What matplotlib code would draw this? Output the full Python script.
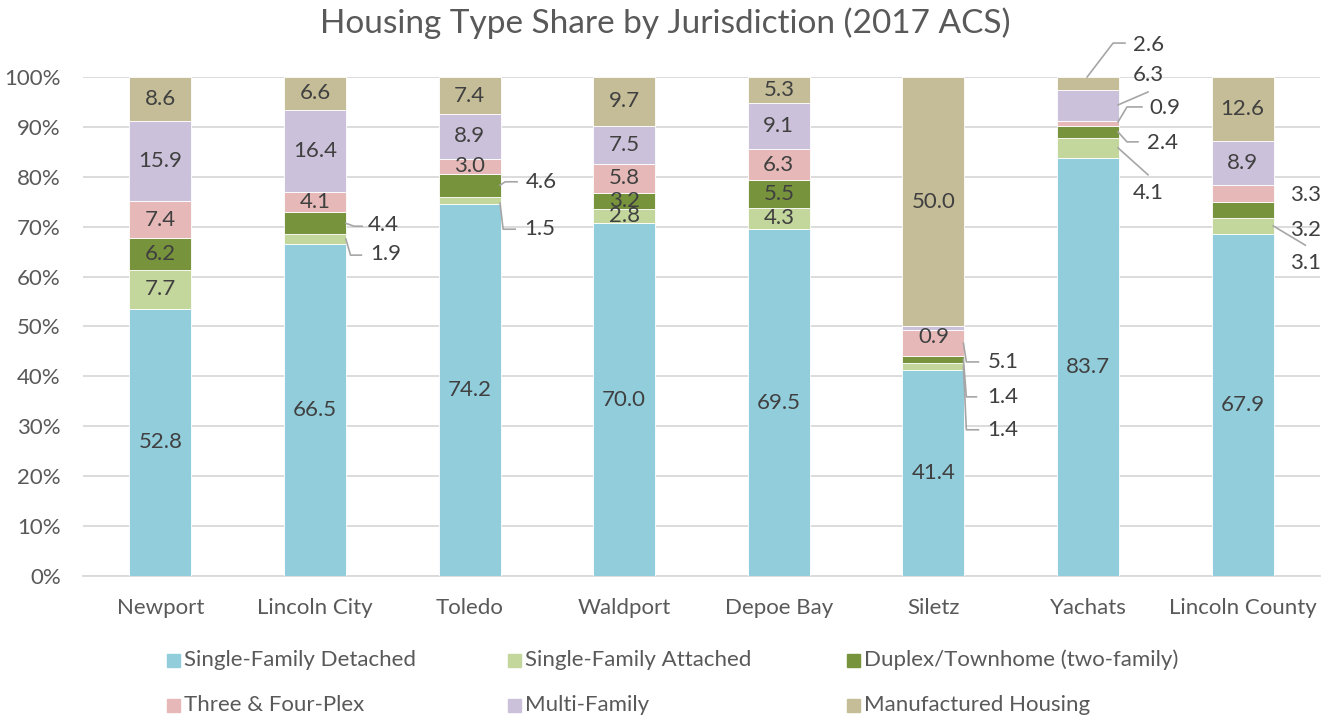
import numpy as np
import matplotlib.pyplot as plt
from matplotlib.patches import Rectangle

plt.rcParams['font.family'] = ['Lato', 'DejaVu Sans']

places = ["Newport", "Lincoln City", "Toledo", "Waldport", "Depoe Bay",
          "Siletz", "Yachats", "Lincoln County"]
types = ["Single-Family Detached", "Single-Family Attached",
         "Duplex/Townhome (two-family)", "Three & Four-Plex",
         "Multi-Family", "Manufactured Housing"]

sf_detached = [52.8, 66.5, 74.2, 70.0, 69.5, 41.4, 83.7, 67.9]
sf_attached = [7.7, 1.9, 1.5, 2.8, 4.3, 1.4, 4.1, 3.1]
duplex      = [6.2, 4.4, 4.6, 3.2, 5.5, 1.4, 2.4, 3.2]
three_four  = [7.4, 4.1, 3.0, 5.8, 6.3, 5.1, 0.9, 3.3]
multi       = [15.9, 16.4, 8.9, 7.5, 9.1, 0.9, 6.3, 8.9]
manufact    = [8.6, 6.6, 7.4, 9.7, 5.3, 50.0, 2.6, 12.6]

colors = ["#92CDDC", "#C3D69B", "#77933C", "#E6B9B8", "#CCC1DA", "#C4BD97"]

vals = np.array([sf_detached, sf_attached, duplex, three_four, multi, manufact])
pct = vals / vals.sum(axis=0) * 100  # 100% stacked

# labels moved outside the bar: (series, place) -> (dx, y, leader points)
moved = {
    (2, 1): (0.34, 70.3, [(0.2, None), (0.253, 70.1), (0.305, 70.1)]),
    (1, 1): (0.36, 64.5, [(0.2, None), (0.23, 64.3), (0.30, 64.3)]),
    (2, 2): (0.365, 79.0, [(0.197, None), (0.23, 79.0), (0.307, 79.0)]),
    (1, 2): (0.352, 69.5, [(0.197, 74.7), (0.217, 69.5), (0.295, 69.5)]),
    (4, 5): (0.0, 47.9, None),
    (3, 5): (0.349, 42.9, [(0.194, None), (0.213, 42.9), (0.291, 42.9)]),
    (2, 5): (0.349, 35.9, [(0.194, None), (0.213, 35.9), (0.278, 35.9)]),
    (1, 5): (0.349, 29.3, [(0.194, None), (0.213, 29.3), (0.291, 29.3)]),
    (5, 6): (0.29, 106.4, [(-0.006, 100.0), (0.162, 106.8), (0.239, 106.8)]),
    (4, 6): (0.29, 100.4, [(0.194, 94.4), (0.388, 97.0)]),
    (3, 6): (0.395, 93.8, [(0.194, 91.0), (0.252, 94.0), (0.349, 94.0)]),
    (2, 6): (0.38, 86.8, [(0.194, 89.0), (0.252, 87.0), (0.323, 87.0)]),
    (1, 6): (0.29, 76.8, [(0.194, 85.8), (0.388, 80.4)]),
    (3, 7): (0.306, 76.4, None),
    (2, 7): (0.306, 69.3, None),
    (1, 7): (0.306, 62.7, [(0.198, None), (0.405, 66.3)]),
}

fig = plt.figure(figsize=(13.31, 7.19), dpi=100)
ax = fig.add_axes([0.0624, 0.1989, 0.9293, 0.694])

x = np.arange(len(places))
bottom = np.zeros(len(places))
for i, t in enumerate(types):
    ax.bar(x, pct[i], 0.4, bottom=bottom, color=colors[i], edgecolor="white",
           linewidth=0.6, zorder=3, label=t)
    for j in range(len(places)):
        mid = bottom[j] + pct[i][j] / 2
        txt = f"{vals[i][j]:.1f}"
        if (i, j) in moved:
            dx, ly, pts = moved[(i, j)]
            if pts:
                px = [j + p[0] for p in pts]
                py = [mid if p[1] is None else p[1] for p in pts]
                ax.plot(px, py, color="#A6A6A6", lw=1.2, zorder=4, clip_on=False)
            ax.text(j + dx, ly, txt, ha="center" if dx == 0 else "left",
                    va="center", fontsize=16, color="#404040", zorder=5,
                    clip_on=False)
        else:
            ax.text(j, mid, txt, ha="center", va="center", fontsize=16,
                    color="#404040", zorder=5)
    bottom += pct[i]

ax.set_xlim(-0.5, len(places) - 0.5)
ax.set_ylim(0, 100)
ax.set_yticks(np.arange(0, 101, 10))
ax.set_yticklabels([f"{v}%" for v in range(0, 101, 10)])
ax.set_xticks(x)
ax.set_xticklabels(places)
ax.tick_params(axis="both", length=0, labelsize=16, colors="#595959")
ax.tick_params(axis="x", pad=16)
ax.tick_params(axis="y", pad=16)
ax.grid(axis="y", color="#D9D9D9", lw=1.3, zorder=0)
for s in ["top", "right", "left"]:
    ax.spines[s].set_visible(False)
ax.spines["bottom"].set_color("#D9D9D9")
ax.spines["bottom"].set_linewidth(1.3)

fig.text(0.5, 0.968, "Housing Type Share by Jurisdiction (2017 ACS)",
         ha="center", va="center", fontsize=24, color="#595959")

# legend, drawn by hand to match the column layout
col_x = [167, 508, 847]
row_y = [660, 705]
W, H = 1331, 719
for i, t in enumerate(types):
    cx = col_x[i % 3]
    cy = row_y[i // 3]
    fig.patches.append(Rectangle((cx / W, (H - cy - 7) / H), 13 / W, 13 / H,
                                 transform=fig.transFigure, color=colors[i]))
    fig.text((cx + 17) / W, (H - cy) / H, t, ha="left", va="center",
             fontsize=16, color="#595959")

fig.savefig("out.png", dpi=100)
